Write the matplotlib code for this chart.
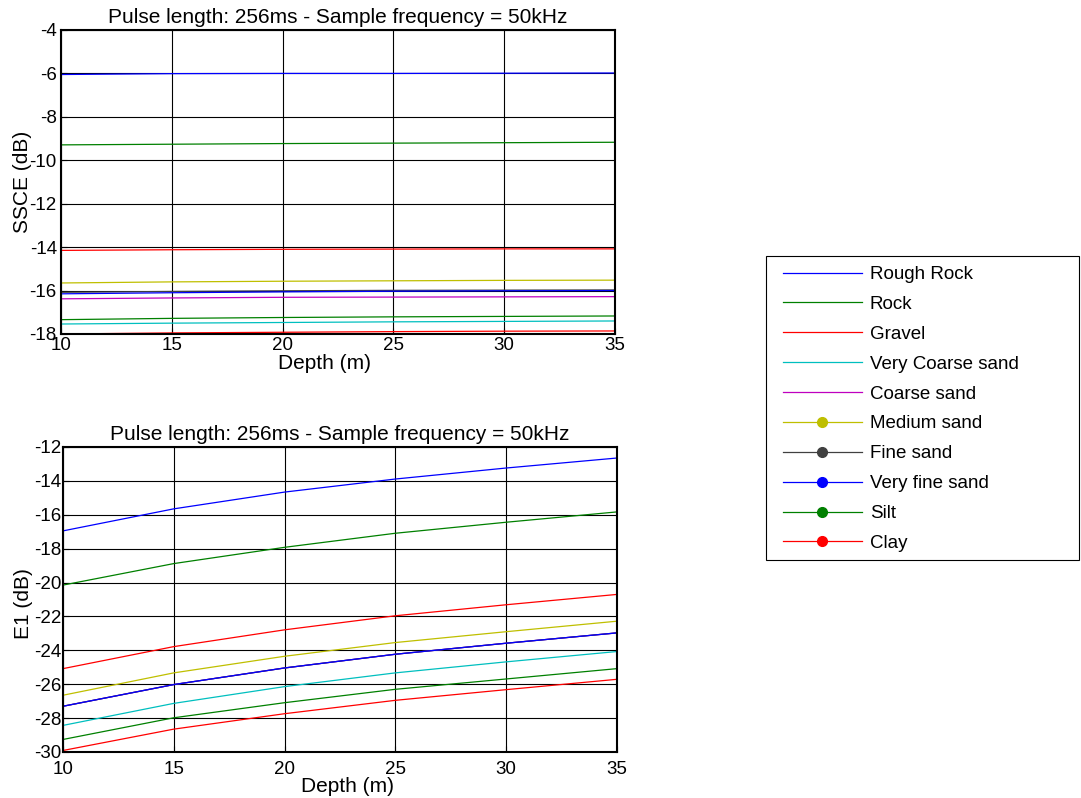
import matplotlib
matplotlib.use("Agg")
import matplotlib.pyplot as plt
from matplotlib.lines import Line2D
from matplotlib.patches import Rectangle
import numpy as np

plt.rcParams['font.family'] = ['Liberation Sans', 'DejaVu Sans']
plt.rcParams['axes.unicode_minus'] = False

depth = [10, 15, 20, 25, 30, 35]

names = ['Rough Rock', 'Rock', 'Gravel', 'Very Coarse sand', 'Coarse sand',
         'Medium sand', 'Fine sand', 'Very fine sand', 'Silt', 'Clay']
colors = [(0, 0, 1), (0, 0.5, 0), (1, 0, 0), (0, 0.75, 0.75), (0.75, 0, 0.75),
          (0.75, 0.75, 0), (0.25, 0.25, 0.25), (0, 0, 1), (0, 0.5, 0), (1, 0, 0)]
with_marker = [False, False, False, False, False, True, True, True, True, True]

# SSCE (dB) per sediment type
ssce = [
    [-6.05, -6.01, -6.00, -6.00, -5.99, -5.98],
    [-9.29, -9.26, -9.23, -9.21, -9.19, -9.17],
    [-14.15, -14.12, -14.10, -14.09, -14.08, -14.08],
    [-17.54, -17.50, -17.47, -17.44, -17.42, -17.40],
    [-16.38, -16.34, -16.31, -16.30, -16.29, -16.28],
    [-15.65, -15.60, -15.57, -15.55, -15.53, -15.52],
    [-16.08, -16.04, -16.01, -15.99, -15.98, -15.97],
    [-16.15, -16.10, -16.06, -16.03, -16.01, -16.00],
    [-17.34, -17.28, -17.24, -17.21, -17.19, -17.17],
    [-18.00, -17.95, -17.92, -17.89, -17.87, -17.86],
]

# E1 (dB) per sediment type
e1 = [
    [-16.95, -15.65, -14.66, -13.89, -13.24, -12.65],
    [-20.15, -18.88, -17.92, -17.09, -16.44, -15.83],
    [-25.08, -23.78, -22.79, -21.96, -21.31, -20.70],
    [-28.43, -27.13, -26.14, -25.33, -24.68, -24.07],
    [-27.30, -26.02, -25.04, -24.23, -23.58, -22.97],
    [-26.65, -25.33, -24.35, -23.54, -22.90, -22.28],
    [-27.30, -26.02, -25.04, -24.23, -23.58, -22.97],
    [-27.30, -26.02, -25.04, -24.23, -23.58, -22.97],
    [-29.26, -27.98, -27.09, -26.30, -25.69, -25.08],
    [-29.91, -28.65, -27.74, -26.95, -26.32, -25.71],
]

title = 'Pulse length: 256ms - Sample frequency = 50kHz'
fs_tick = 13.5
fs_lab = 15

W, H = 1081, 798
fig = plt.figure(figsize=(W / 100, H / 100), dpi=100)
ax1 = fig.add_axes([61 / W, 1 - 334 / H, 554 / W, 304 / H])
ax2 = fig.add_axes([63 / W, 1 - 752 / H, 554 / W, 305 / H])


def style(ax, ylim, yticks, ylabel):
    ax.set_xlim(10, 35)
    ax.set_ylim(*ylim)
    ax.set_yticks(yticks)
    ax.set_xticks(depth)
    ax.grid(True, color='black', linewidth=0.8, linestyle='-')
    ax.set_axisbelow(True)
    ax.tick_params(direction='in', length=4, labelsize=fs_tick, color='black')
    for s in ax.spines.values():
        s.set_linewidth(1.5)
    ax.set_title(title, fontsize=fs_lab, pad=5)
    ax.set_xlabel('Depth (m)', fontsize=fs_lab)
    ax.set_ylabel(ylabel, fontsize=fs_lab)


for vals, c in zip(ssce, colors):
    ax1.plot(depth, vals, color=c, linewidth=0.9)
style(ax1, (-18, -4), np.arange(-18, -3, 2), 'SSCE (dB)')
ax1.tick_params(axis='x', pad=2)
ax1.tick_params(axis='y', pad=3)
ax1.xaxis.set_label_coords(0.4765, -0.066)
ax1.yaxis.set_label_coords(-0.052, 0.5)

for vals, c in zip(e1, colors):
    ax2.plot(depth, vals, color=c, linewidth=0.9)
style(ax2, (-30, -12), np.arange(-30, -11, 2), 'E1 (dB)')
ax2.tick_params(axis='x', pad=6.5)
ax2.tick_params(axis='y', pad=1)
ax2.xaxis.set_label_coords(0.513, -0.082)
ax2.yaxis.set_label_coords(-0.054, 0.487)

handles = []
for n, c, m in zip(names, colors, with_marker):
    handles.append(Line2D([0], [0], color=c, linewidth=0.9,
                          marker='o' if m else None, markersize=7,
                          markerfacecolor=c, markeredgecolor=c, label=n))

fs_leg = 13.5
leg = fig.legend(handles=handles, loc='upper left',
                 bbox_to_anchor=(783 / W, 1 - 266 / H),
                 fontsize=fs_leg, frameon=False,
                 handlelength=4.2, handletextpad=0.43, labelspacing=0.68,
                 borderpad=0, borderaxespad=0)

# legend box
fig.patches.append(Rectangle((766 / W, 1 - 560 / H), 313 / W, 304 / H,
                             transform=fig.transFigure, fill=False,
                             edgecolor='black', linewidth=0.8))

fig.savefig('out.png', dpi=100)
